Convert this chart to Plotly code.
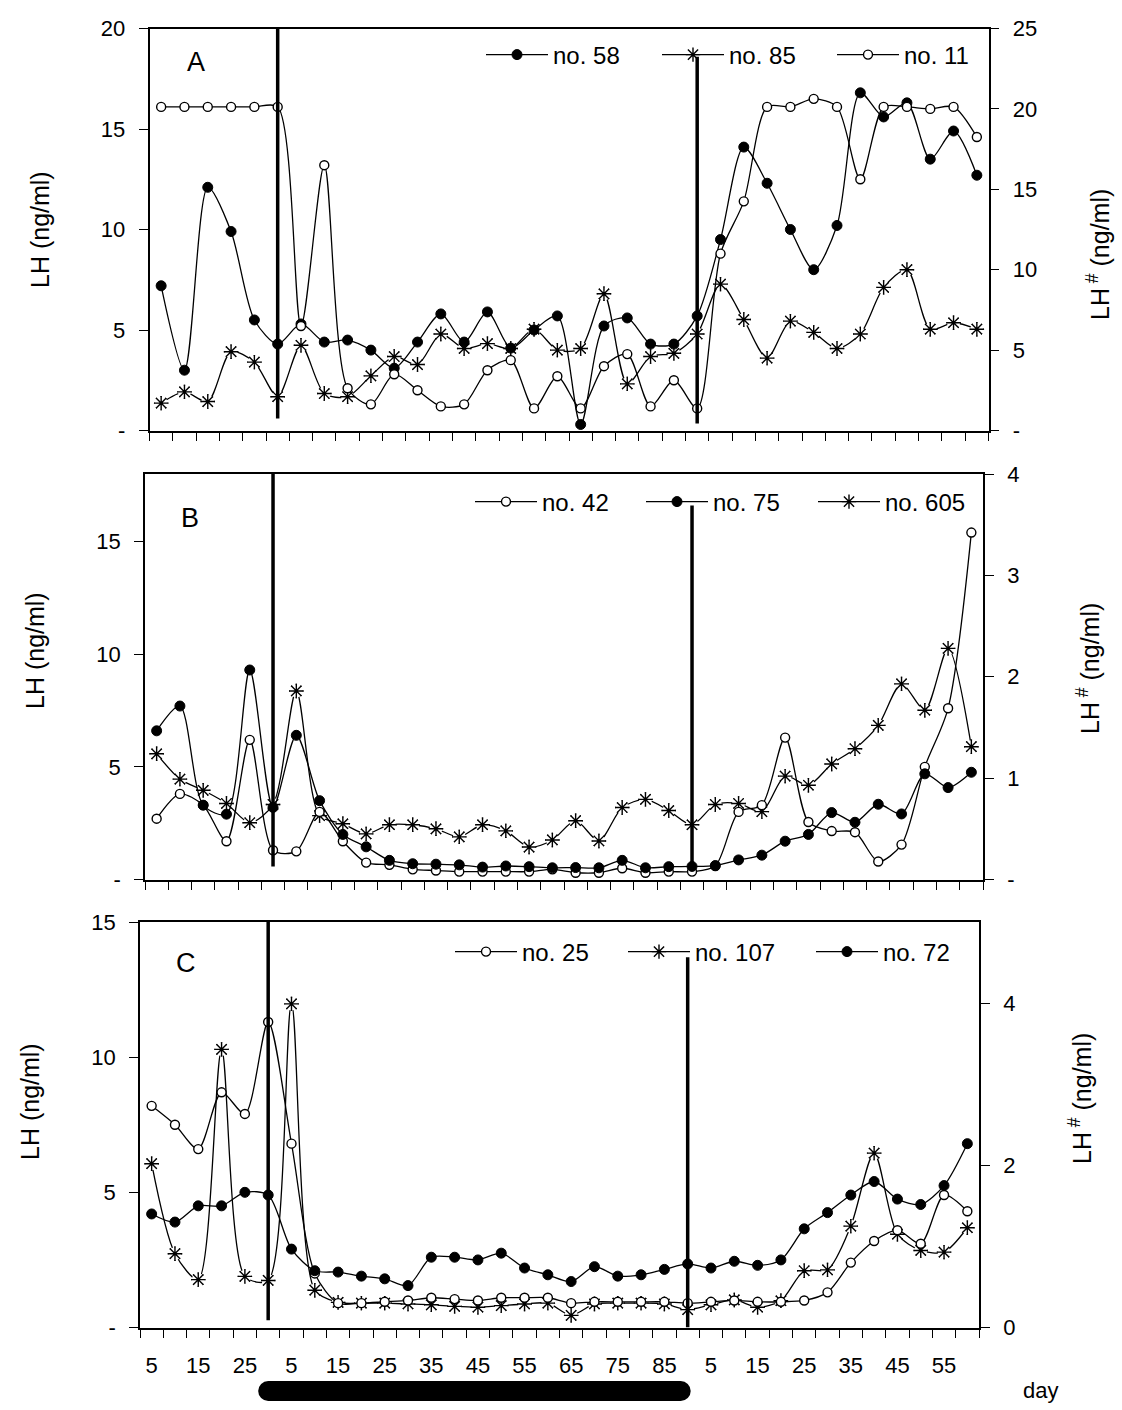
import plotly.graph_objects as go

W, H = 1122, 1410

# Sampling days (every 5 days) before, during and after the treatment period
days_before = [5, 10, 15, 20, 25, 30]
days_during = [5, 10, 15, 20, 25, 30, 35, 40, 45, 50, 55, 60, 65, 70, 75, 80, 85, 90]
days_after = [5, 10, 15, 20, 25, 30, 35, 40, 45, 50, 55, 60]

# Panel A (LH, ng/ml; no. 85 on the LH# axis)
a_no58 = [7.2, 3.0, 12.1, 9.9, 5.5, 4.3, 5.3, 4.4, 4.5, 4.0, 3.1, 4.4, 5.8, 4.4, 5.9, 4.1, 5.0, 5.7,
          0.3, 5.2, 5.6, 4.3, 4.3, 5.7, 9.5, 14.1, 12.3, 10.0, 8.0, 10.2, 16.8, 15.6, 16.3, 13.5, 14.9, 12.7]
a_no85 = [1.7, 2.4, 1.8, 4.9, 4.25, 2.1, 5.3, 2.3, 2.1, 3.4, 4.6, 4.1, 6.0, 5.1, 5.4, 5.1, 6.3, 5.0,
          5.1, 8.5, 2.9, 4.6, 4.8, 6.0, 9.1, 6.9, 4.5, 6.8, 6.1, 5.1, 6.0, 8.9, 10.0, 6.3, 6.7, 6.3]
a_no11 = [16.1, 16.1, 16.1, 16.1, 16.1, 16.1, 5.2, 13.2, 2.1, 1.3, 2.8, 2.0, 1.2, 1.3, 3.0, 3.5, 1.1, 2.7,
          1.1, 3.2, 3.8, 1.2, 2.5, 1.1, 8.8, 11.4, 16.1, 16.1, 16.5, 16.1, 12.5, 16.1, 16.1, 16.0, 16.1, 14.6]

# Panel B (no. 605 on the LH# axis)
b_no42 = [2.7, 3.8, 3.3, 1.7, 6.2, 1.3, 1.25, 3.0, 1.7, 0.75, 0.65, 0.45, 0.4, 0.35, 0.35, 0.35, 0.35, 0.45,
          0.3, 0.3, 0.5, 0.3, 0.35, 0.35, 0.6, 3.0, 3.3, 6.3, 2.55, 2.15, 2.1, 0.8, 1.55, 5.0, 7.6, 15.4]
b_no75 = [6.6, 7.7, 3.3, 2.9, 9.3, 3.2, 6.4, 3.5, 2.0, 1.45, 0.85, 0.7, 0.68, 0.65, 0.55, 0.6, 0.57, 0.52,
          0.53, 0.52, 0.85, 0.52, 0.57, 0.58, 0.62, 0.87, 1.08, 1.7, 2.0, 2.97, 2.54, 3.34, 2.91, 4.69, 4.08, 4.76]
b_no605 = [1.24, 0.99, 0.88, 0.75, 0.56, 0.74, 1.86, 0.63, 0.55, 0.45, 0.54, 0.54, 0.5, 0.42, 0.54, 0.48, 0.32, 0.39,
           0.58, 0.38, 0.71, 0.79, 0.68, 0.54, 0.74, 0.75, 0.67, 1.02, 0.93, 1.14, 1.29, 1.52, 1.93, 1.67, 2.28, 1.31]

# Panel C (no. 107 on the LH# axis)
c_no25 = [8.2, 7.5, 6.6, 8.7, 7.9, 11.3, 6.8, 2.0, 0.9, 0.9, 0.95, 1.0, 1.1, 1.05, 1.0, 1.1, 1.1, 1.1,
          0.9, 0.95, 0.95, 0.95, 0.95, 0.9, 0.95, 1.0, 0.95, 0.95, 1.0, 1.3, 2.4, 3.2, 3.6, 3.1, 4.9, 4.3]
c_no107 = [2.02, 0.91, 0.59, 3.43, 0.63, 0.58, 3.99, 0.46, 0.31, 0.3, 0.3, 0.29, 0.28, 0.26, 0.25, 0.27, 0.29, 0.3,
           0.15, 0.29, 0.3, 0.3, 0.29, 0.22, 0.28, 0.34, 0.25, 0.33, 0.7, 0.71, 1.25, 2.15, 1.15, 0.95, 0.93, 1.23]
c_no72 = [4.2, 3.9, 4.5, 4.5, 5.0, 4.9, 2.9, 2.1, 2.05, 1.9, 1.8, 1.55, 2.6, 2.6, 2.5, 2.75, 2.2, 1.95,
          1.7, 2.25, 1.9, 1.95, 2.15, 2.35, 2.2, 2.45, 2.3, 2.5, 3.65, 4.25, 4.9, 5.4, 4.75, 4.55, 5.25, 6.8]

days = days_before + days_during + days_after
xpos = list(range(len(days)))
label_pos = [i for i, d in enumerate(days) if d % 10 == 5]
label_txt = [str(days[i]) for i in label_pos]
start_idx = len(days_before) - 1                       # last day before treatment
end_idx = len(days_before) + len(days_during) - 1      # last day of treatment

FONT = "Arial, Liberation Sans, sans-serif"
TICK_FONT = dict(family=FONT, size=22, color="black")

LINE = dict(color="black", width=1.3, shape="spline", smoothing=0.8)
FILLED = dict(symbol="circle", size=10, color="black", line=dict(width=1, color="black"))
OPEN = dict(symbol="circle", size=9, color="white", line=dict(width=1.4, color="black"))
STAR = dict(symbol="asterisk-open", size=12, color="black", line=dict(width=1.4, color="black"))
HALO = dict(symbol="circle", size=13, color="white", line=dict(width=0))

fig = go.Figure()


def add_series(y, name, marker, xa, ya, legend):
    fig.add_trace(go.Scatter(x=xpos, y=y, name=name, mode="lines+markers", line=LINE,
                             marker=marker, xaxis=xa, yaxis=ya, legend=legend))


def add_star_series(y, name, xa, ya, legend):
    # line, white halo around each point, then the asterisk on top
    fig.add_trace(go.Scatter(x=xpos, y=y, name=name, mode="lines+markers", line=LINE,
                             marker=STAR, xaxis=xa, yaxis=ya, legend=legend))
    fig.add_trace(go.Scatter(x=xpos, y=y, mode="markers", marker=HALO, showlegend=False,
                             hoverinfo="skip", xaxis=xa, yaxis=ya))
    fig.add_trace(go.Scatter(x=xpos, y=y, mode="markers", marker=STAR, showlegend=False,
                             hoverinfo="skip", xaxis=xa, yaxis=ya))


# Panel A
add_star_series(a_no85, "no. 85", "x", "y", "legend2")
add_series(a_no58, "no. 58", FILLED, "x", "y2", "legend")
add_series(a_no11, "no. 11", OPEN, "x", "y2", "legend3")
# Panel B
add_star_series(b_no605, "no. 605", "x2", "y3", "legend6")
add_series(b_no42, "no. 42", OPEN, "x2", "y4", "legend4")
add_series(b_no75, "no. 75", FILLED, "x2", "y4", "legend5")
# Panel C
add_star_series(c_no107, "no. 107", "x3", "y5", "legend8")
add_series(c_no25, "no. 25", OPEN, "x3", "y6", "legend7")
add_series(c_no72, "no. 72", FILLED, "x3", "y6", "legend9")


def px_x(v):
    return v / W


def px_y(v):
    return 1 - v / H


def x_axis(left, right, top, bottom, anchor, labels):
    cfg = dict(domain=[px_x(left), px_x(right)], anchor=anchor,
               range=[-0.5, len(days) - 0.5], showline=True, linecolor="black", linewidth=1.5,
               mirror=True, showgrid=False, zeroline=False, tickmode="array",
               tickvals=label_pos, ticks="", showticklabels=labels,
               minor=dict(tickmode="array", tickvals=[i - 0.5 for i in range(len(days) + 1)],
                          ticks="outside", ticklen=9, tickwidth=1.3, tickcolor="black",
                          showgrid=False),
               automargin=False)
    if labels:
        cfg.update(ticktext=label_txt, tickfont=TICK_FONT, ticklabelstandoff=17)
    return cfg


def y_axis(top, bottom, rng, vals, txt, side, anchor, overlay=None):
    cfg = dict(range=rng, tickmode="array", tickvals=vals, ticktext=txt, side=side, anchor=anchor,
               showline=True, linecolor="black", linewidth=1.5, ticks="outside", ticklen=9,
               tickwidth=1.3, tickcolor="black", showgrid=False, zeroline=False,
               tickfont=TICK_FONT, ticklabelstandoff=9, automargin=False)
    if overlay:
        cfg["overlaying"] = overlay
    else:
        cfg["domain"] = [px_y(bottom), px_y(top)]
    return cfg


boxes = {
    "A": (149.5, 988.5, 28.5, 430.5),
    "B": (145.0, 983.0, 474.0, 879.5),
    "C": (140.0, 979.0, 922.0, 1327.5),
}

layout = dict(
    width=W, height=H, margin=dict(l=0, r=0, t=0, b=0),
    paper_bgcolor="white", plot_bgcolor="rgba(0,0,0,0)",
    font=dict(family=FONT, color="black"),
    xaxis=x_axis(*boxes["A"], "y", False),
    xaxis2=x_axis(*boxes["B"], "y3", False),
    xaxis3=x_axis(*boxes["C"], "y5", True),
    yaxis=y_axis(boxes["A"][2], boxes["A"][3], [0, 25], [0, 5, 10, 15, 20, 25],
                 ["-", "5", "10", "15", "20", "25"], "right", "x"),
    yaxis2=y_axis(None, None, [0, 20], [0, 5, 10, 15, 20], ["-", "5", "10", "15", "20"],
                  "left", "x", "y"),
    yaxis3=y_axis(boxes["B"][2], boxes["B"][3], [0, 4], [0, 1, 2, 3, 4],
                  ["-", "1", "2", "3", "4"], "right", "x2"),
    yaxis4=y_axis(None, None, [0, 18], [0, 5, 10, 15], ["-", "5", "10", "15"],
                  "left", "x2", "y3"),
    yaxis5=y_axis(boxes["C"][2], boxes["C"][3], [0, 5], [0, 2, 4], ["0", "2", "4"], "right", "x3"),
    yaxis6=y_axis(None, None, [0, 15], [0, 5, 10, 15], ["-", "5", "10", "15"],
                  "left", "x3", "y5"),
    showlegend=True,
)

# One legend per entry so each can sit where it belongs in its panel;
# positions are where each entry's text starts
LEGEND_SYMBOL_W = 62
legend_text_start = {
    "legend": (553, 55), "legend2": (729, 55), "legend3": (904, 55),
    "legend4": (542, 502), "legend5": (713, 502), "legend6": (885, 502),
    "legend7": (522, 952), "legend8": (695, 952), "legend9": (883, 952),
}
for key, (lx, ly) in legend_text_start.items():
    layout[key] = dict(x=px_x(lx - LEGEND_SYMBOL_W - 10), y=px_y(ly), xanchor="left",
                       yanchor="middle", orientation="h", itemwidth=LEGEND_SYMBOL_W,
                       bgcolor="rgba(0,0,0,0)", borderwidth=0,
                       font=dict(family=FONT, size=24, color="black"))

fig.update_layout(**layout)

# Thick vertical markers at the start and end of the treatment period
period_lines = [
    ("x", "y2", start_idx, 0.6, 20.0), ("x", "y2", end_idx, 0.35, 18.6),
    ("x2", "y4", start_idx, 0.58, 18.0), ("x2", "y4", end_idx, 0.7, 16.6),
    ("x3", "y6", start_idx, 0.27, 15.0), ("x3", "y6", end_idx, 0.0, 13.7),
]
for xr, yr, xi, y0, y1 in period_lines:
    fig.add_shape(type="line", xref=xr, yref=yr, x0=xi, x1=xi, y0=y0, y1=y1,
                  line=dict(color="black", width=3.5), layer="above")

# Treatment bar under the day axis
bar_y0, bar_y1 = px_y(1401), px_y(1381)
fig.add_shape(type="rect", xref="x3", yref="paper", x0=start_idx, x1=end_idx - 0.3,
              y0=bar_y0, y1=bar_y1, fillcolor="black", line=dict(width=0))
for xc in (start_idx, end_idx - 0.3):
    fig.add_shape(type="circle", xref="x3", yref="paper", xsizemode="pixel", xanchor=xc,
                  x0=-10, x1=10, y0=bar_y0, y1=bar_y1, fillcolor="black", line=dict(width=0))

# Text: panel letters, axis titles, day label
texts = [
    ("A", 196, 62, 0, 27), ("B", 190, 518, 0, 27), ("C", 186, 963, 0, 27),
    ("LH (ng/ml)", 40, 230, -90, 25), ("LH (ng/ml)", 35, 651, -90, 25), ("LH (ng/ml)", 30, 1102, -90, 25),
    ("LH<sup> #</sup> (ng/ml)", 1098, 255, -90, 25), ("LH<sup> #</sup> (ng/ml)", 1088, 669, -90, 25),
    ("LH<sup> #</sup> (ng/ml)", 1080, 1099, -90, 25),
    ("day", 1040, 1390, 0, 22),
]
for txt, tx, ty, ang, size in texts:
    fig.add_annotation(text=txt, x=px_x(tx), y=px_y(ty), xref="paper", yref="paper",
                       showarrow=False, textangle=ang, xanchor="center", yanchor="middle",
                       font=dict(family=FONT, size=size, color="black"))

fig.write_html("out.html")
